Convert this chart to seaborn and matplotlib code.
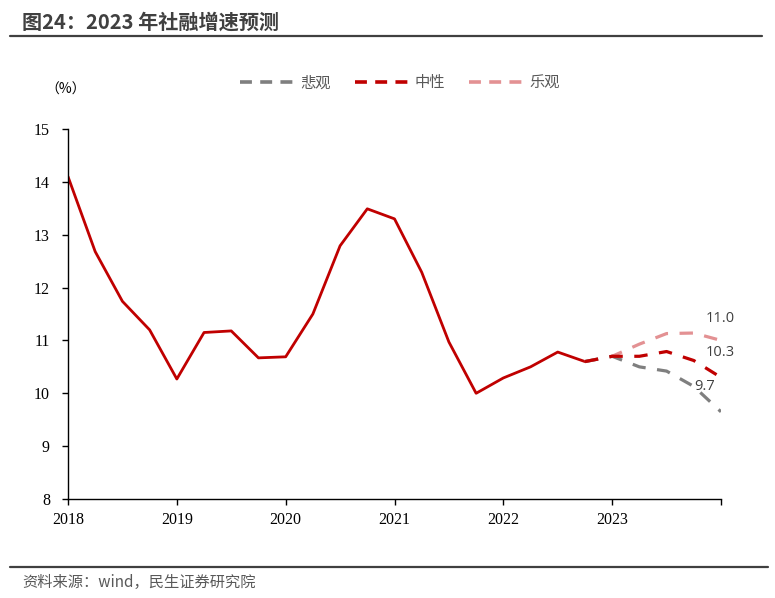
import numpy as np
import pandas as pd
import matplotlib
matplotlib.use("Agg")
import matplotlib.pyplot as plt
import seaborn as sns
from matplotlib.lines import Line2D

sns.set_theme(style="white")
plt.rcParams['font.family'] = ['Noto Sans CJK SC', 'DejaVu Sans']

# quarterly TSF stock growth (%), 2018 Q1 .. 2022 Q4
hist = [14.1, 12.68, 11.74, 11.2, 10.27, 11.15, 11.18, 10.67, 10.69, 11.5,
        12.79, 13.49, 13.3, 12.29, 10.97, 10.0, 10.29, 10.5, 10.78, 10.6]
# 2023 scenarios (start from last actual point)
pess = [10.6, 10.7, 10.5, 10.42, 10.13, 9.65]
neut = [10.6, 10.7, 10.7, 10.79, 10.62, 10.3]
opti = [10.6, 10.7, 10.93, 11.13, 11.14, 11.0]
end_labels = ["9.7", "10.3", "11.0"]
year_labels = ["2018", "2019", "2020", "2021", "2022", "2023", ""]
scen_names = ["悲观", "中性", "乐观"]

red = "#C00000"
gray = "#7F7F7F"
pink = "#E39193"

n_hist = len(hist)
x_hist = np.arange(n_hist)
x_fc = np.arange(n_hist - 1, n_hist - 1 + len(pess))

fig = plt.figure(figsize=(7.75, 5.98), dpi=100)
ax = fig.add_axes([68 / 775, 1 - 499 / 598, (721 - 68) / 775, (499 - 129) / 598])

sns.lineplot(x=x_hist, y=hist, ax=ax, color=red, linewidth=2.0)
dash = (0, (4.2, 3.6))
for vals, col in [(opti, pink), (pess, gray), (neut, red)]:
    sns.lineplot(x=x_fc, y=vals, ax=ax, color=col, linewidth=2.3)
    ax.lines[-1].set_linestyle(dash)

ax.set_xlim(0, 24)
ax.set_ylim(8, 15)
ax.set_xticks(np.arange(0, 25, 4))
ax.set_xticklabels(year_labels, family=['Liberation Serif'], fontsize=11.5)
ax.set_yticks(np.arange(8, 16, 1))
ax.set_yticklabels([str(v) for v in range(8, 16)], family=['Liberation Serif'], fontsize=11.5)
ax.tick_params(axis='both', direction='out', length=4, width=1, color='black',
               bottom=True, left=True, labelcolor='black')
ax.tick_params(axis='x', pad=5)
ax.tick_params(axis='y', pad=9)
for s in ['top', 'right']:
    ax.spines[s].set_visible(False)
for s in ['left', 'bottom']:
    ax.spines[s].set_color('black')
    ax.spines[s].set_linewidth(1.0)
ax.grid(False)
ax.set_xlabel("")
ax.set_ylabel("")

# end-of-scenario labels
lab_pos = [(pess, 705, 386), (neut, 720, 352), (opti, 720, 318)]
for (vals, px, py), txt in zip(lab_pos, end_labels):
    fig.text(px / 775, 1 - py / 598, txt, fontsize=10.5, color='#404040',
             family=['Open Sans'], ha='center', va='center')

# legend
handles = [Line2D([0], [0], color=c, lw=2.6, linestyle=(0, (3.3, 2.3)))
           for c in [gray, red, pink]]
fig.legend(handles, scen_names, loc='center', bbox_to_anchor=(0.516, 1 - 83 / 598),
           ncol=3, frameon=False, handlelength=3.5, handletextpad=0.4,
           columnspacing=1.6, prop={'family': 'Noto Sans CJK SC', 'size': 11},
           labelcolor='#595959')

fig.text(45 / 775, 1 - 90 / 598, "（%）", fontsize=10, color='black',
         family=['Noto Sans CJK SC'], ha='left', va='center')

# title and rules
fig.text(22 / 775, 1 - 22 / 598, "图24：2023 年社融增速预测", fontsize=14.5,
         fontweight='bold', color='#404040', ha='left', va='center')
fig.add_artist(Line2D([10 / 775, 762 / 775], [1 - 36 / 598, 1 - 36 / 598],
                      color='#404040', lw=1.6))
fig.add_artist(Line2D([10 / 775, 768 / 775], [1 - 567 / 598, 1 - 567 / 598],
                      color='#404040', lw=1.6))
fig.text(22 / 775, 1 - 582 / 598, "资料来源：wind，民生证券研究院", fontsize=11,
         color='#595959', ha='left', va='center')

fig.savefig("out.png", dpi=100, facecolor='white')
